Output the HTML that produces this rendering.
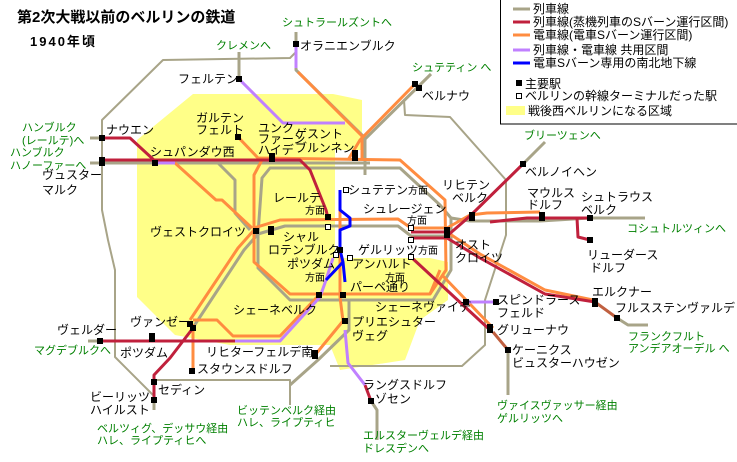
<!DOCTYPE html>
<html><head><meta charset="utf-8"><style>
body{margin:0;background:#fff;}
svg{display:block;font-family:"Liberation Sans","Noto Sans CJK JP",sans-serif;font-size:12px;}
.g{fill:#008000;font-size:11px}
.t{fill:#000}
.s{font-size:10px}
</style></head><body>
<svg width="737" height="462" viewBox="0 0 737 462" xmlns="http://www.w3.org/2000/svg">
<!-- yellow west berlin -->
<path d="M193,94 L333,94 L362,100 L362,150 L335,150 L335,258 L430,258 L448,262 L448,300 L420,320 L405,360 L340,370 L330,345 L300,345 L230,345 L175,335 L150,310 L137,297 L137,140 Z" fill="#ffff88"/>
<g fill="none" stroke-linejoin="round">
<!-- outer thin gray -->
<path d="M296,52 L290,58 L163,60 L102,120 L102,210 L108,240 L115,270 L115,357 L153,395" stroke="#a8a488" stroke-width="2"/>
<path d="M404,100 L405,115 L450,117 L506,180 L506,235 L485,300 L485,345 L462,366 L330,366" stroke="#a8a488" stroke-width="2"/>
<path d="M153,380 L290,380 L290,405" stroke="#a8a488" stroke-width="2"/>
<!-- gray main -->
<g stroke="#a8a488" stroke-width="3">
<path d="M296,32 L296,70 L365,138 L365,175"/>
<path d="M239,52 L239,79"/>
<path d="M431,74 L362,142"/>
<path d="M545,142 L523,164"/>
<path d="M90,163 L370,163"/>
<path d="M90,138 L102,138"/>
<path d="M218,163 L235,180 L235,213 L250,230"/>
<path d="M88,341 L100,341"/>
<path d="M194,326 L244,250 L258,234"/>
<path d="M258,234 L262,178 L270,168 L400,168 L440,205 L451,218 L451,270 L433,300 L290,300 L258,268 L258,234"/>
<path d="M258,234 L285,226 L398,226 L411,236 L451,236"/>
<path d="M451,218 L470,221 L540,221 L590,218 L645,218"/>
<path d="M349,300 L349,330 L318,360 L290,385"/>
<path d="M508,350 L508,395"/>
<path d="M617,318 L628,325 L648,325"/>
<path d="M371,401 L377,410 L377,440"/>
<path d="M154,400 L154,410"/>
</g>
<!-- orange -->
<g stroke="#ff8c40" stroke-width="3">
<path d="M298,72 L362,136 L362,160"/>
<path d="M415,84 L360,140 L348,160"/>
<path d="M238,137 L258,158 L400,160 L445,200 L446,270 L430,294 L290,294 L254,262 L254,175 L262,160"/>
<path d="M175,163 L216,200 L222,200 L252,228"/>
<path d="M190,320 L238,248 L254,230"/>
<path d="M254,228 L280,220 L398,219 L411,228 L447,228 L470,215 L487,213 L540,212"/>
<path d="M340,190 L340,297 L343,321 L315,355"/>
<path d="M193,324 L193,371"/>
<path d="M193,320 L217,320 L233,336 L280,336 L318,296"/>
<path d="M447,232 L480,254 L545,290 L593,300"/>
<path d="M443,276 L493,328"/>
<path d="M440,270 L430,294"/>
</g>
<!-- red -->
<g stroke="#c0203c" stroke-width="3">
<path d="M102,138 L130,138 L155,161"/>
<path d="M102,160 L300,160 L310,170 L326,210 L328,218"/>
<path d="M523,164 L470,216 L447,236"/>
<path d="M411,232 L447,232"/>
<path d="M411,238 L447,238 L480,258 L545,294 L595,302"/>
<path d="M411,257 L490,330"/>
<path d="M490,222 L527,218 L590,218"/>
<path d="M577,218 L578,237 L590,240"/>
<path d="M100,341 L235,341"/>
<path d="M193,328 L170,358 L154,375 L154,400"/>
<path d="M365,385 L371,401"/>
</g>
<g stroke="#c06040" stroke-width="3">
<path d="M595,302 L617,318"/><path d="M493,332 L508,350"/>
</g>
<!-- purple -->
<g stroke="#c080ff" stroke-width="3">
<path d="M296,44 L296,68"/>
<path d="M239,79 L283,123 L345,123"/>
<path d="M155,163 L175,163"/>
<path d="M235,341 L280,341 L320,297 L326,280 L333,258"/>
<path d="M345,330 L348,363 L365,385"/>
<path d="M466,302 L496,302"/>
</g>
<!-- blue -->
<path d="M340,190 L340,210 L350,218 L350,226 L340,230 L340,250 L343,262 L326,280 M343,262 L345,282" stroke="#0000ff" stroke-width="3"/>
</g>
<!-- stations -->
<g fill="#000">
<rect x="293" y="41" width="6" height="6"/><rect x="236" y="76" width="6" height="6"/>
<rect x="412" y="81" width="6" height="6"/><rect x="416" y="85" width="6" height="6"/>
<rect x="99" y="135" width="6" height="6"/><rect x="99" y="157" width="6" height="9"/>
<rect x="152" y="160" width="6" height="6"/><rect x="235" y="134" width="6" height="6"/>
<rect x="269" y="153" width="6" height="9"/><rect x="352" y="150" width="6" height="11"/>
<rect x="520" y="161" width="6" height="6"/><rect x="469" y="212" width="6" height="9"/>
<rect x="539" y="212" width="6" height="9"/><rect x="587" y="215" width="6" height="6"/>
<rect x="587" y="237" width="6" height="6"/><rect x="444" y="227" width="6" height="11"/>
<rect x="325" y="214" width="6" height="6"/><rect x="268" y="226" width="6" height="9"/>
<rect x="253" y="228" width="6" height="6"/><rect x="337" y="247" width="6" height="6"/>
<rect x="316" y="292" width="6" height="6"/><rect x="340" y="292" width="6" height="6"/>
<rect x="342" y="318" width="6" height="6"/><rect x="463" y="299" width="6" height="6"/>
<rect x="493" y="299" width="6" height="6"/><rect x="487" y="324" width="6" height="9"/>
<rect x="505" y="347" width="6" height="6"/><rect x="592" y="298" width="6" height="9"/>
<rect x="614" y="315" width="6" height="6"/><rect x="312" y="350" width="6" height="9"/>
<rect x="368" y="398" width="6" height="6"/><rect x="187" y="321" width="6" height="6"/>
<rect x="190" y="325" width="6" height="6"/><rect x="189" y="368" width="6" height="6"/>
<rect x="149" y="333" width="6" height="9"/><rect x="97" y="338" width="6" height="6"/>
<rect x="151" y="379" width="6" height="6"/><rect x="151" y="397" width="6" height="6"/>
</g>
<g fill="#fff" stroke="#000" stroke-width="1">
<rect x="343.5" y="187.5" width="5" height="5"/><rect x="325.5" y="224.5" width="5" height="5"/>
<rect x="408.5" y="225.5" width="5" height="5"/><rect x="408.5" y="237.5" width="5" height="5"/>
<rect x="408.5" y="254.5" width="5" height="5"/><rect x="333.5" y="252.5" width="5" height="5"/>
<rect x="347.5" y="255.5" width="5" height="5"/>
</g>
<!-- legend -->
<rect x="500.5" y="-1" width="240" height="125" fill="#fff" stroke="#000"/>
<g stroke-width="3">
<line x1="513" y1="9" x2="530" y2="9" stroke="#a8a488"/>
<line x1="513" y1="22" x2="530" y2="22" stroke="#c0203c"/>
<line x1="513" y1="35" x2="530" y2="35" stroke="#ff8c40"/>
<line x1="513" y1="50" x2="530" y2="50" stroke="#c080ff"/>
<line x1="513" y1="63" x2="530" y2="63" stroke="#0000ff"/>
</g>
<rect x="516" y="80" width="6" height="6"/><rect x="516.5" y="93.5" width="5" height="5" fill="#fff" stroke="#000"/>
<rect x="506" y="106" width="19" height="9" fill="#ffff88"/>
<g class="t">
<text x="533" y="13">列車線</text>
<text x="533" y="26">列車線(蒸機列車のSバーン運行区間)</text>
<text x="533" y="39">電車線(電車Sバーン運行区間)</text>
<text x="533" y="54">列車線・電車線 共用区間</text>
<text x="533" y="67">電車Sバーン専用の南北地下線</text>
<text x="525" y="88">主要駅</text>
<text x="525" y="100">ベルリンの幹線ターミナルだった駅</text>
<text x="528" y="115">戦後西ベルリンになる区域</text>
</g>
<text x="17" y="22" style="font-size:15px;font-weight:bold">第2次大戦以前のベルリンの鉄道</text>
<text x="30" y="46" style="font-size:13px;font-weight:bold;letter-spacing:2px">1940年頃</text>
<!-- green -->
<g class="g">
<text x="282" y="26">シュトラールズントへ</text><text x="216" y="49">クレメンへ</text>
<text x="412" y="71">シュテティン へ</text><text x="524" y="139">ブリーツェンへ</text>
<text x="22" y="131">ハンブルク</text><text x="22" y="144">(レールテ)へ</text>
<text x="10" y="156">ハンブルク</text><text x="10" y="169">ハノーファーへ</text>
<text x="627" y="232">コシュトルツィンへ</text>
<text x="34" y="354">マグデブルクへ</text>
<text x="628" y="340">フランクフルト</text><text x="628" y="352">アンデアオーデル へ</text>
<text x="97" y="432">ベルツィグ、デッサウ経由</text><text x="97" y="444">ハレ、ライプティヒへ</text>
<text x="237" y="414">ビッテンベルク経由</text><text x="237" y="426">ハレ、ライプティヒ</text>
<text x="363" y="439">エルスターヴェルデ経由</text><text x="363" y="452">ドレスデンへ</text>
<text x="497" y="409">ヴァイスヴァッサー経由</text><text x="497" y="422">ゲルリッツへ</text>
</g>
<g class="t">
<text x="300" y="50">オラニエンブルク</text><text x="178" y="83">フェルテン</text>
<text x="422" y="100">ベルナウ</text><text x="106" y="134">ナウエン</text>
<text x="42" y="179">ヴュスター</text><text x="42" y="194">マルク</text>
<text x="150" y="156">シュパンダウ西</text>
<text x="196" y="122">ガルテン</text><text x="196" y="134">フェルト</text>
<text x="258" y="132">ユンク</text><text x="258" y="143">ファーン</text><text x="258" y="154">ハイデ</text>
<text x="295" y="138">ゲスント</text><text x="295" y="152">ブルンネン</text>
<text x="525" y="176">ベルノイヘン</text>
<text x="442" y="189">リヒテン</text><text x="452" y="202">ベルク</text>
<text x="527" y="197">マウルス</text><text x="527" y="209">ドルフ</text>
<text x="581" y="201">シュトラウス</text><text x="581" y="214">ベルク</text>
<text x="587" y="259">リューダース</text><text x="590" y="272">ドルフ</text>
<text x="273" y="202">レールテ</text><text class="s" x="305" y="214">方面</text>
<text x="348" y="194">シュテテン<tspan class="s">方面</tspan></text>
<text x="363" y="213">シュレージェン</text><text class="s" x="407" y="224">方面</text>
<text x="150" y="236">ヴェストクロイツ</text>
<text x="283" y="241">シャル</text><text x="268" y="254">ロテンブルク</text>
<text x="358" y="254">ゲルリッツ<tspan class="s">方面</tspan></text>
<text x="455" y="249">オスト</text><text x="455" y="262">クロイツ</text>
<text x="287" y="268">ポツダム</text><text class="s" x="305" y="281">方面</text>
<text x="352" y="268">アンハルト</text><text class="s" x="385" y="281">方面</text>
<text x="350" y="291">パーペ通り</text>
<text x="233" y="314">シェーネベルク</text><text x="375" y="311">シェーネヴァイデ</text>
<text x="352" y="326">プリエシュター</text><text x="352" y="340">ヴェグ</text>
<text x="497" y="304">スピンドラース</text><text x="497" y="317">フェルド</text>
<text x="497" y="334">グリューナウ</text>
<text x="512" y="354">ケーニクス</text><text x="512" y="367">ビュスターハウゼン</text>
<text x="592" y="296">エルクナー</text><text x="615" y="312">フルスステンヴァルデ</text>
<text x="130" y="326">ヴァンゼー</text><text x="57" y="334">ヴェルダー</text>
<text x="120" y="357">ポツダム</text><text x="206" y="356">リヒターフェルデ南</text>
<text x="197" y="373">スタウンスドルフ</text><text x="158" y="394">セディン</text>
<text x="90" y="401">ビーリッツ</text><text x="90" y="414">ハイルスト</text>
<text x="363" y="389">ラングスドルフ</text><text x="375" y="403">ゾセン</text>
</g>
</svg>
</body></html>
